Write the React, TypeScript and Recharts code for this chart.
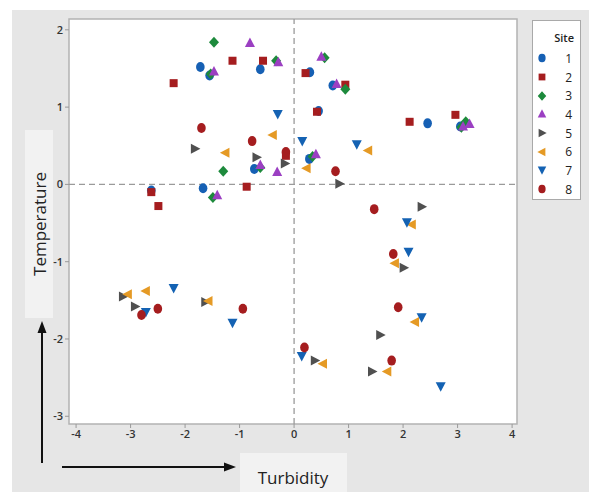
import React from "react";
import {
  ScatterChart,
  Scatter,
  XAxis,
  YAxis,
  CartesianGrid,
  ReferenceLine,
  ReferenceArea,
  Legend,
} from "recharts";

type Pt = [number, number];

const X_TICKS = [-4, -3, -2, -1, 0, 1, 2, 3, 4];
const Y_TICKS = [-3, -2, -1, 0, 1, 2];
const SITES = ["1", "2", "3", "4", "5", "6", "7", "8"];

// turbidity, temperature per site
const site1: Pt[] = [
  [-1.72, 1.52], [-0.62, 1.49], [-1.55, 1.41], [-0.73, 0.2], [0.29, 1.45], [0.71, 1.28],
  [0.45, 0.95], [2.45, 0.79], [3.05, 0.75], [0.28, 0.33], [-1.67, -0.05], [-2.62, -0.08],
];
const site2: Pt[] = [
  [-1.13, 1.6], [-0.57, 1.6], [-2.21, 1.31], [-0.15, 0.37], [0.21, 1.44], [0.94, 1.29],
  [0.42, 0.94], [2.12, 0.81], [2.96, 0.9], [-0.87, -0.03], [-2.62, -0.1], [-2.49, -0.28],
];
const site3: Pt[] = [
  [-1.47, 1.84], [-0.33, 1.6], [-1.53, 1.43], [-0.62, 0.22], [-1.3, 0.17], [0.56, 1.64],
  [0.94, 1.23], [3.15, 0.81], [3.07, 0.74], [0.34, 0.36], [-1.49, -0.17],
];
const site4: Pt[] = [
  [-0.81, 1.83], [-0.29, 1.58], [-1.47, 1.46], [-0.62, 0.25], [-0.31, 0.16], [0.5, 1.65],
  [0.78, 1.3], [3.22, 0.78], [3.1, 0.75], [0.4, 0.39], [-1.41, -0.14],
];
const site5: Pt[] = [
  [-1.82, 0.46], [-0.69, 0.35], [-0.17, 0.27], [0.83, 0.01], [-3.14, -1.45], [-2.92, -1.58],
  [-1.63, -1.52], [2.34, -0.29], [2.01, -1.08], [1.58, -1.95], [0.38, -2.28], [1.43, -2.42],
];
const site6: Pt[] = [
  [-0.39, 0.64], [-1.26, 0.41], [1.36, 0.44], [0.23, 0.21], [-3.05, -1.42], [-2.72, -1.38],
  [-1.57, -1.51], [2.16, -0.52], [1.85, -1.02], [2.22, -1.78], [0.53, -2.32], [1.71, -2.42],
];
const site7: Pt[] = [
  [-0.3, 0.91], [0.15, 0.56], [1.15, 0.52], [-2.21, -1.34], [-2.72, -1.65], [-1.13, -1.79],
  [0.14, -2.22], [2.07, -0.49], [2.1, -0.87], [2.34, -1.72], [2.69, -2.61],
];
const site8: Pt[] = [
  [-1.7, 0.73], [-0.77, 0.56], [-0.15, 0.42], [0.76, 0.17], [-2.8, -1.69], [-2.5, -1.61],
  [-0.94, -1.61], [1.47, -0.32], [1.82, -0.9], [1.91, -1.59], [0.19, -2.11], [1.79, -2.28],
];

const SITE_DATA = [site1, site2, site3, site4, site5, site6, site7, site8];
const COLORS = ["#1660b4", "#a51d1f", "#1d8a3c", "#9b3fc2", "#505050", "#e59a25", "#1462b3", "#a51d1f"];
const SHAPES = ["circle", "square", "diamond", "up", "right", "left", "down", "circle"];

const X_DOMAIN: [number, number] = [-4.13, 4.09];
const Y_DOMAIN: [number, number] = [-3.1, 2.14];

const Marker = ({ cx, cy, kind, color, s = 1 }: { cx: number; cy: number; kind: string; color: string; s?: number }) => {
  if (cx == null || cy == null) return null;
  const a = 5.5 * s;
  const b = 5 * s;
  const c = 4 * s;
  switch (kind) {
    case "circle":
      return <ellipse cx={cx} cy={cy} rx={4.3 * s} ry={5 * s} fill={color} />;
    case "square":
      return <rect x={cx - c} y={cy - c} width={2 * c} height={2 * c} fill={color} />;
    case "diamond":
      return <polygon points={`${cx},${cy - a} ${cx + b},${cy} ${cx},${cy + a} ${cx - b},${cy}`} fill={color} />;
    case "up":
      return <polygon points={`${cx},${cy - a} ${cx + b},${cy + c} ${cx - b},${cy + c}`} fill={color} />;
    case "down":
      return <polygon points={`${cx},${cy + a} ${cx - b},${cy - c} ${cx + b},${cy - c}`} fill={color} />;
    case "right":
      return <polygon points={`${cx + a},${cy} ${cx - c},${cy - b} ${cx - c},${cy + b}`} fill={color} />;
    default:
      return <polygon points={`${cx - a},${cy} ${cx + c},${cy - b} ${cx + c},${cy + b}`} fill={color} />;
  }
};

const SiteLegend = () => (
  <div
    style={{
      width: 49,
      height: 180,
      background: "#fff",
      border: "1px solid #a9a9a9",
      fontFamily: "'Open Sans', sans-serif",
      color: "#222",
      boxSizing: "border-box",
      paddingTop: 9,
    }}
  >
    <div style={{ textAlign: "right", paddingRight: 6, height: 19, fontSize: 11, fontWeight: 600 }}>Site</div>
    {SITES.map((s, i) => (
      <div key={s} style={{ display: "flex", alignItems: "center", height: 18.7 }}>
        <svg width={20} height={14} style={{ marginLeft: 1 }}>
          <Marker cx={8} cy={7} kind={SHAPES[i]} color={COLORS[i]} s={0.85} />
        </svg>
        <span style={{ marginLeft: "auto", paddingRight: 8, fontSize: 12 }}>{s}</span>
      </div>
    ))}
  </div>
);

const tickStyle = { fill: "#333", fontSize: 11, fontWeight: 600, fontFamily: "'Open Sans', sans-serif" };

export default function App() {
  return (
    <div style={{ position: "absolute", left: 0, top: 0, width: 589, height: 492, background: "#fff" }}>
      <div style={{ position: "absolute", left: 12, top: 10, width: 577, height: 482, background: "#e6e6e6" }} />
      <div style={{ position: "absolute", left: 0, top: 0 }}>
        <ScatterChart width={589} height={492} margin={{ top: 19, right: 72, bottom: 48, left: 29 }}>
          <CartesianGrid fill="#ffffff" horizontal={false} vertical={false} />
          <XAxis
            type="number"
            dataKey="x"
            domain={X_DOMAIN}
            ticks={X_TICKS}
            allowDataOverflow
            axisLine={false}
            tickLine={{ stroke: "#999" }}
            tickSize={4}
            tick={tickStyle}
            height={20}
          />
          <YAxis
            type="number"
            dataKey="y"
            domain={Y_DOMAIN}
            ticks={Y_TICKS}
            allowDataOverflow
            axisLine={false}
            tickLine={{ stroke: "#999" }}
            tickSize={4}
            tick={tickStyle}
            width={40}
          />
          <ReferenceArea
            x1={X_DOMAIN[0]}
            x2={X_DOMAIN[1]}
            y1={Y_DOMAIN[0]}
            y2={Y_DOMAIN[1]}
            fill="none"
            stroke="#b3b3b3"
            strokeWidth={1.5}
          />
          <ReferenceLine y={0} stroke="#9a9a9a" strokeDasharray="6 4" strokeWidth={1.3} />
          <ReferenceLine x={0} stroke="#9a9a9a" strokeDasharray="6 4" strokeWidth={1.3} />
          <Legend
            layout="vertical"
            align="center"
            verticalAlign="middle"
            wrapperStyle={{ left: 532, top: 20, width: 49, height: 180 }}
            content={() => <SiteLegend />}
          />
          {SITE_DATA.map((pts, i) => (
            <Scatter
              key={SITES[i]}
              name={SITES[i]}
              data={pts.map(([x, y]) => ({ x, y }))}
              isAnimationActive={false}
              shape={(p: any) => <Marker cx={p.cx} cy={p.cy} kind={SHAPES[i]} color={COLORS[i]} />}
            />
          ))}
        </ScatterChart>
      </div>
      <svg
        width={589}
        height={492}
        style={{ position: "absolute", left: 0, top: 0, pointerEvents: "none" }}
        fontFamily="'Open Sans', sans-serif"
      >
        <rect x={25} y={130} width={28} height={188} fill="#f2f2f2" />
        <text
          x={39}
          y={224}
          transform="rotate(-90 39 224)"
          textAnchor="middle"
          dominantBaseline="central"
          fontSize={17}
          fill="#222"
        >
          Temperature
        </text>
        <line x1={42} y1={463} x2={42} y2={330} stroke="#111" strokeWidth={2} />
        <polygon points="42,321 37.5,333 46.5,333" fill="#111" />
        <line x1={62} y1={467} x2={226} y2={467} stroke="#111" strokeWidth={2} />
        <polygon points="236,467 224,462.5 224,471.5" fill="#111" />
        <rect x={240} y={453} width={107} height={39} fill="#f2f2f2" />
        <text x={293} y={477} textAnchor="middle" dominantBaseline="central" fontSize={17} fill="#222">
          Turbidity
        </text>
      </svg>
    </div>
  );
}
